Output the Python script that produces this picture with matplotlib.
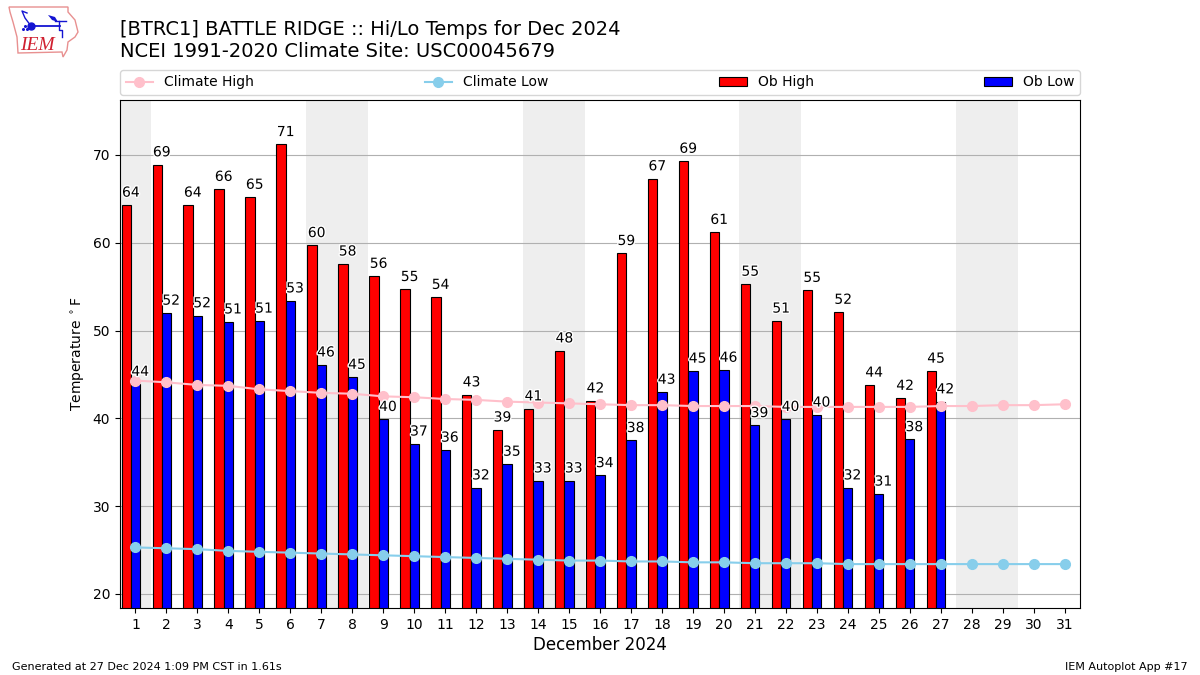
import numpy as np
import matplotlib
matplotlib.use('Agg')
import matplotlib.pyplot as plt
import matplotlib.patheffects as pe
#===============================================================================
days = list(range(1, 32))
ob_high = [64.3, 68.9, 64.3, 66.1, 65.2, 71.2, 59.7, 57.6, 56.2, 54.7, 53.8, 42.7,
           38.7, 41.1, 47.7, 42.0, 58.8, 67.3, 69.3, 61.2, 55.3, 51.1, 54.6, 52.1,
           43.8, 42.3, 45.4]
ob_low = [43.9, 52.0, 51.7, 51.0, 51.1, 53.4, 46.1, 44.7, 39.9, 37.1, 36.4, 32.1,
          34.8, 32.9, 32.9, 33.5, 37.5, 43.0, 45.4, 45.5, 39.2, 39.9, 40.4, 32.1,
          31.4, 37.6, 41.9]
climate_high = [44.3, 44.1, 43.8, 43.7, 43.3, 43.1, 42.9, 42.8, 42.5, 42.4, 42.2,
                42.1, 41.9, 41.8, 41.7, 41.6, 41.5, 41.5, 41.4, 41.4, 41.4, 41.3,
                41.3, 41.3, 41.3, 41.3, 41.4, 41.4, 41.5, 41.5, 41.6]
climate_low = [25.3, 25.2, 25.1, 24.9, 24.8, 24.7, 24.6, 24.5, 24.4, 24.3, 24.2,
               24.1, 24.0, 23.9, 23.8, 23.8, 23.7, 23.7, 23.6, 23.6, 23.5, 23.5,
               23.5, 23.4, 23.4, 23.4, 23.4, 23.4, 23.4, 23.4, 23.4]
weekends = [(0.5, 1.5), (6.5, 8.5), (13.5, 15.5), (20.5, 22.5), (27.5, 29.5)]
#===============================================================================
W, H = 1200., 675.
fig = plt.figure(figsize=(12, 6.75), dpi=100)
ax = fig.add_axes([120/W, 1-608/H, 960/W, 508/H])

for lo, hi in weekends:
    ax.axvspan(lo, hi, color='#eeeeee', lw=0, zorder=0)

x_high = np.arange(1, len(ob_high)+1) - 0.3
x_low  = np.arange(1, len(ob_low)+1)
ax.bar(x_high, ob_high, 0.3, color='r', edgecolor='k', lw=0.8, label='Ob High', zorder=2)
ax.bar(x_low,  ob_low,  0.3, color='b', edgecolor='k', lw=0.8, label='Ob Low',  zorder=2)
ax.plot(days, climate_high, color='pink', marker='o', lw=1.5, ms=7, label='Climate High', zorder=3)
ax.plot(days, climate_low, color='skyblue', marker='o', lw=1.5, ms=7, label='Climate Low', zorder=3)

stroke = [pe.withStroke(linewidth=2, foreground='white')]
for xx, val in zip(x_high, ob_high):
    ax.text(xx+0.15, val+0.6, "%.0f" % val, ha='center', va='bottom', fontsize=10,
            zorder=4, path_effects=stroke)
for xx, val in zip(x_low, ob_low):
    ax.text(xx+0.15, val+0.6, "%.0f" % val, ha='center', va='bottom', fontsize=10,
            zorder=4, path_effects=stroke)

ax.set_xlim(0.5, 31.5)
ax.set_ylim(18.4, 76.25)
ax.set_xticks(days)
ax.set_yticks(range(20, 71, 10))
ax.yaxis.grid(True, color='#b0b0b0', zorder=1)
ax.set_axisbelow(True)
ax.set_xlabel("December 2024", fontsize=12, labelpad=3)
ax.set_ylabel(r"Temperature $^\circ$F")

handles, labels = ax.get_legend_handles_labels()
order = [labels.index(l) for l in ['Climate High', 'Climate Low', 'Ob High', 'Ob Low']]
ax.legend([handles[i] for i in order], [labels[i] for i in order], ncol=4, mode='expand',
          loc='lower left', bbox_to_anchor=(0, 1.01, 1, 0.05), borderaxespad=0)
#===============================================================================
fig.text(120/W, 1-20/H, "[BTRC1] BATTLE RIDGE :: Hi/Lo Temps for Dec 2024\n"
         "NCEI 1991-2020 Climate Site: USC00045679", fontsize=14, ha='left', va='top')
fig.text(12/W, 1-670/H, "Generated at 27 Dec 2024 1:09 PM CST in 1.61s", fontsize=8,
         ha='left', va='baseline')
fig.text(1188/W, 1-670/H, "IEM Autoplot App #17", fontsize=8, ha='right', va='baseline')
#===============================================================================
# logo, drawn in figure pixels
logo = fig.add_axes([0, 0, 1, 1], facecolor='none')
logo.set_xlim(0, W)
logo.set_ylim(H, 0)
logo.axis('off')
blue = '#1414d2'
outline_x = [9, 68, 68, 75, 78, 75, 68, 67, 63, 62, 18, 17, 13, 10, 9]
outline_y = [7, 7, 12, 20, 32, 37, 42, 50, 57, 52, 53, 37, 22, 12, 7]
logo.fill(outline_x, outline_y, facecolor='none', edgecolor='#e89090', lw=1)
logo.plot([31, 60], [26, 26], color=blue, lw=1.3)
logo.plot([31], [26], 'o', color=blue, ms=5)
logo.fill([48, 55, 58, 52], [15, 17, 22, 20], color=blue, lw=0)
logo.plot([55, 66], [21, 21], color=blue, lw=1)
logo.plot([59, 59, 62, 62], [21, 30, 30, 37], color=blue, lw=1)
logo.plot([27, 22, 25, 31], [13, 11, 18, 26], color=blue, lw=1)
logo.plot([23, 25, 27], [29, 26, 29], 'o', color=blue, ms=1.2)
logo.text(37.5, 45, "IEM", color='#d02030', fontsize=14, family='Liberation Serif',
          style='italic', ha='center', va='center')

fig.savefig('out.png', dpi=100)
